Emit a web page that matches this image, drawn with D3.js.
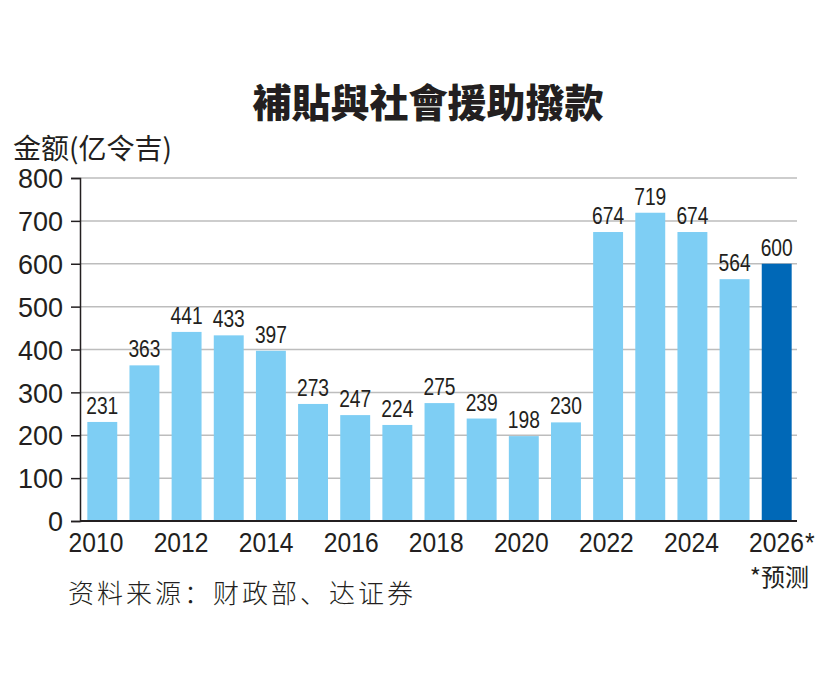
<!DOCTYPE html>
<html><head><meta charset="utf-8">
<script src="https://cdn.jsdelivr.net/npm/d3@7"></script>
<style>
body{margin:0;background:#fff;}
svg{display:block;}
</style>
</head><body>
<svg id="c" width="828" height="690"></svg>
<script>
const years = [2010,2011,2012,2013,2014,2015,2016,2017,2018,2019,2020,2021,2022,2023,2024,2025,2026];
const values = [231,363,441,433,397,273,247,224,275,239,198,230,674,719,674,564,600];
const forecast = [false,false,false,false,false,false,false,false,false,false,false,false,false,false,false,false,true];
const yTicks = [0,100,200,300,400,500,600,700,800];
const xLabelYears = [2010,2012,2014,2016,2018,2020,2022,2024,2026];
const title = "補貼與社會援助撥款";
const yLabel = "金额(亿令吉)";
const note = "*预测";
const source = "资料来源：财政部、达证券";

const svg = d3.select("#c");
const sans = "'Liberation Sans',Arial,sans-serif";
const cjk = "'Noto Sans CJK SC','Noto Sans CJK TC',sans-serif";
const ink = "#231f20";

const x = d3.scaleBand().domain(years).range([81, 798]).paddingInner(0.29).paddingOuter(0.15);
const y = d3.scaleLinear().domain([0, 800]).range([521, 178]);
// year labels in the reference sit on a slightly wider spacing than the bars
const xLab = d3.scaleLinear().domain([2010, 2026]).range([96, 776.5]);

// gridlines
svg.append("g").selectAll("line").data(yTicks.filter(d => d > 0)).join("line")
  .attr("x1", 80).attr("x2", 797)
  .attr("y1", d => y(d)).attr("y2", d => y(d))
  .attr("stroke", "#bdbdbd").attr("stroke-width", 1.5);

// bars
svg.append("g").selectAll("rect").data(years).join("rect")
  .attr("x", d => x(d)).attr("width", x.bandwidth())
  .attr("y", (d, i) => y(values[i])).attr("height", (d, i) => y(0) - y(values[i]))
  .attr("fill", (d, i) => forecast[i] ? "#0068b7" : "#7ecef4");

// value labels (condensed)
svg.append("g").selectAll("text").data(years).join("text")
  .attr("transform", (d, i) => `translate(${x(d) + x.bandwidth() / 2},${y(values[i]) - 8}) scale(0.8,1)`)
  .attr("text-anchor", "middle")
  .attr("font-family", sans).attr("font-size", 24).attr("fill", ink)
  .text((d, i) => values[i]);

// y axis
const yAxis = svg.append("g").attr("transform", "translate(80,0)")
  .call(d3.axisLeft(y).tickValues(yTicks).tickSize(9).tickPadding(8));
yAxis.select(".domain").attr("stroke", ink).attr("stroke-width", 1.5);
yAxis.selectAll(".tick line").attr("stroke", ink).attr("stroke-width", 1.5);
yAxis.selectAll(".tick text").attr("font-family", sans)
  .attr("font-size", 27).attr("fill", ink).attr("dy", "0.36em");

// x axis baseline
svg.append("line").attr("x1", 80).attr("x2", 797).attr("y1", y(0)).attr("y2", y(0))
  .attr("stroke", ink).attr("stroke-width", 2);

// x labels (condensed)
const xl = svg.append("g");
xLabelYears.forEach(yr => {
  const i = years.indexOf(yr);
  const cx = xLab(yr);
  const t = xl.append("text").attr("transform", `translate(${cx},552) scale(0.88,1)`)
    .attr("text-anchor", "middle").attr("font-family", sans).attr("font-size", 28)
    .attr("fill", ink).text(yr);
  if (forecast[i]) {
    const w = t.node().getComputedTextLength() * 0.88;
    xl.append("text").attr("transform", `translate(${cx + w / 2 + 1},552) scale(0.88,1)`)
      .attr("font-family", sans).attr("font-size", 28).attr("fill", ink).text("*");
  }
});

// note
svg.append("text").attr("x", 809).attr("y", 586).attr("text-anchor", "end")
  .attr("font-family", cjk).attr("font-size", 24).attr("fill", ink).text(note);

// title
svg.append("text").attr("x", 428).attr("y", 117).attr("text-anchor", "middle")
  .attr("font-family", cjk).attr("font-weight", 900).attr("font-size", 39).attr("fill", ink).text(title);

// y label
svg.append("text").attr("x", 13).attr("y", 159)
  .attr("font-family", cjk).attr("font-size", 28).attr("fill", ink).text(yLabel);

// source
svg.append("text").attr("x", 68).attr("y", 603)
  .attr("font-family", cjk).attr("font-weight", 300).attr("font-size", 26).attr("letter-spacing", 3)
  .attr("fill", ink).text(source);
</script>
</body></html>
